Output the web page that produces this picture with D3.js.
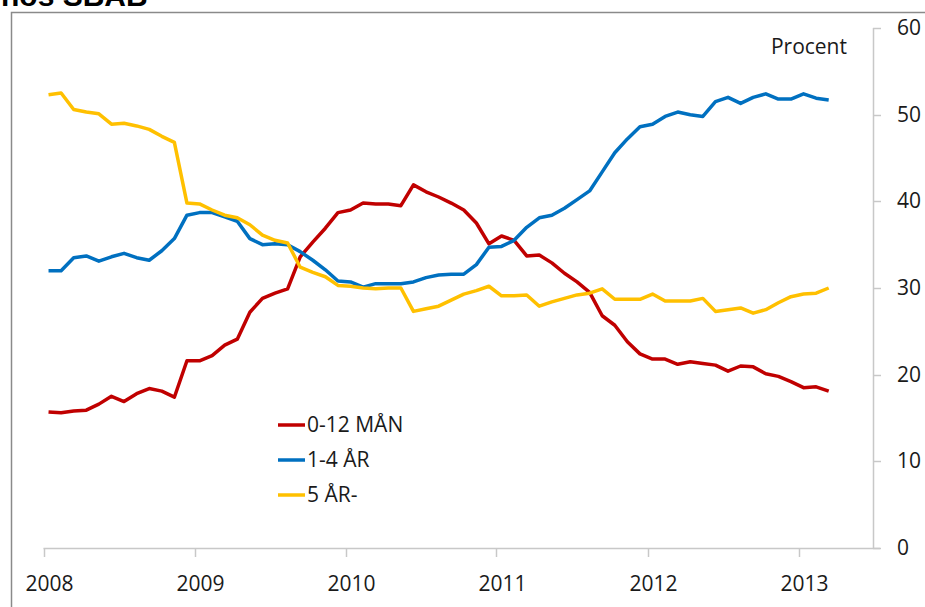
<!DOCTYPE html>
<html>
<head>
<meta charset="utf-8">
<script src="https://cdn.jsdelivr.net/npm/d3@7"></script>
<style>
  body { margin: 0; background: #fff; }
  text { font-family: "Open Sans", sans-serif; fill: #1a1a1a; }
</style>
</head>
<body>
<div id="chart"></div>
<script>
// monthly series, Jan 2008 - Mar 2013
let startYear = 2008;
let years = [2008, 2009, 2010, 2011, 2012, 2013];
let yTicks = [0, 10, 20, 30, 40, 50, 60];
let seriesNames = ["0-12 MÅN", "1-4 ÅR", "5 ÅR-"];
let seriesColors = ["#c00000", "#0070c0", "#ffc000"];

let kort = [15.7, 15.6, 15.8, 15.9, 16.6, 17.5, 16.9, 17.8, 18.4, 18.1, 17.4, 21.6,
    21.6, 22.2, 23.4, 24.1, 27.2, 28.8, 29.4, 29.9, 33.6, 35.3, 36.9, 38.7,
    39.0, 39.8, 39.7, 39.7, 39.5, 41.9, 41.1, 40.5, 39.8, 39.0, 37.5, 35.1,
    36.0, 35.5, 33.7, 33.8, 32.9, 31.7, 30.7, 29.5, 26.8, 25.7, 23.8, 22.4,
    21.8, 21.8, 21.2, 21.5, 21.3, 21.1, 20.4, 21.0, 20.9, 20.1, 19.8, 19.2,
    18.5, 18.6, 18.1];
let mellan = [32.0, 32.0, 33.5, 33.7, 33.1, 33.6, 34.0, 33.5, 33.2, 34.3, 35.7, 38.4,
    38.7, 38.7, 38.2, 37.7, 35.7, 35.0, 35.1, 35.0, 34.2, 33.2, 32.1, 30.8,
    30.7, 30.1, 30.5, 30.5, 30.5, 30.7, 31.2, 31.5, 31.6, 31.6, 32.7, 34.7,
    34.8, 35.5, 37.0, 38.1, 38.4, 39.2, 40.2, 41.2, 43.4, 45.6, 47.2, 48.6,
    48.9, 49.8, 50.3, 50.0, 49.8, 51.5, 52.0, 51.3, 52.0, 52.4, 51.8, 51.8,
    52.4, 51.9, 51.7];
let lang = [52.3, 52.5, 50.6, 50.3, 50.1, 48.9, 49.0, 48.7, 48.3, 47.5, 46.8, 39.8,
    39.7, 39.0, 38.4, 38.1, 37.3, 36.1, 35.5, 35.2, 32.4, 31.8, 31.3, 30.3,
    30.2, 30.0, 29.9, 30.0, 30.0, 27.3, 27.6, 27.9, 28.6, 29.3, 29.7, 30.2,
    29.1, 29.1, 29.2, 27.9, 28.4, 28.8, 29.2, 29.4, 29.9, 28.7, 28.7, 28.7,
    29.3, 28.5, 28.5, 28.5, 28.8, 27.3, 27.5, 27.7, 27.1, 27.5, 28.3, 29.0,
    29.3, 29.4, 30.0];

var width = 925,
    height = 607;

var svg = d3.select('#chart').append('svg')
    .attr('width', width)
    .attr('height', height);

// title, cut off at the top like the original
svg.append("text")
    .attr("x", 1)
    .attr("y", 6)
    .style("font-family", "'Liberation Sans', Arial, sans-serif")
    .style("font-weight", "bold")
    .style("font-size", "30px")
    .style("fill", "#000")
    .text("hos SBAB");

// frame
svg.append("path")
    .attr("d", "M11.5," + height + "V12.5H" + width)
    .attr("fill", "none")
    .attr("stroke", "#8a8a8a")
    .attr("stroke-width", 1.5);

let scaleX = d3.scaleLinear().domain([2008, 2013]).range([43.5, 798.5]);
let scaleY = d3.scaleLinear().domain([0, 60]).range([548, 28]);

// point position: month i after Jan 2008
let monthX = i => scaleX(startYear + (i + 0.4) / 12);

var axisColor = "#c8c8c8";

// x axis
svg.append("line")
    .attr("x1", 43.5).attr("x2", 880)
    .attr("y1", 548.5).attr("y2", 548.5)
    .attr("stroke", axisColor).attr("stroke-width", 1.5);

svg.selectAll(".x-tick").data(years).enter()
    .append("line")
    .attr("class", "x-tick")
    .attr("x1", d => Math.round(scaleX(d)) + 0.5)
    .attr("x2", d => Math.round(scaleX(d)) + 0.5)
    .attr("y1", 548).attr("y2", 557)
    .attr("stroke", axisColor).attr("stroke-width", 1.5);

svg.selectAll(".x-label").data(years).enter()
    .append("text")
    .attr("class", "x-label")
    .attr("x", d => scaleX(d) + 6)
    .attr("y", 591)
    .attr("text-anchor", "middle")
    .style("font-size", "21px")
    .text(d => d);

// right y axis
svg.append("line")
    .attr("x1", 873.5).attr("x2", 873.5)
    .attr("y1", scaleY(60)).attr("y2", 548.5)
    .attr("stroke", axisColor).attr("stroke-width", 1.5);

svg.selectAll(".y-tick").data(yTicks).enter()
    .append("line")
    .attr("class", "y-tick")
    .attr("x1", 873).attr("x2", 881)
    .attr("y1", d => Math.round(scaleY(d)) + 0.5)
    .attr("y2", d => Math.round(scaleY(d)) + 0.5)
    .attr("stroke", axisColor).attr("stroke-width", 1.5);

svg.selectAll(".y-label").data(yTicks).enter()
    .append("text")
    .attr("class", "y-label")
    .attr("x", 897)
    .attr("y", d => scaleY(d) + 7)
    .style("font-size", "21px")
    .text(d => d);

svg.append("text")
    .attr("x", 847)
    .attr("y", 54)
    .attr("text-anchor", "end")
    .style("font-size", "21px")
    .text("Procent");

// lines
let allSeries = [kort, mellan, lang];
let line = d3.line()
    .x((d, i) => monthX(i))
    .y(d => scaleY(d));

svg.selectAll(".serie").data(allSeries).enter()
    .append("path")
    .attr("class", "serie")
    .attr("d", d => line(d))
    .attr("fill", "none")
    .attr("stroke", (d, i) => seriesColors[i])
    .attr("stroke-width", 3.5)
    .attr("stroke-linejoin", "round");

// legend
let legend = svg.selectAll(".legend").data(seriesNames).enter()
    .append("g")
    .attr("class", "legend")
    .attr("transform", (d, i) => "translate(278," + (425 + i * 35) + ")");

legend.append("line")
    .attr("x1", 0).attr("x2", 27)
    .attr("stroke", (d, i) => seriesColors[i])
    .attr("stroke-width", 3.5);

legend.append("text")
    .attr("x", 29)
    .attr("y", 7)
    .style("font-size", "21px")
    .text(d => d);
</script>
</body>
</html>
